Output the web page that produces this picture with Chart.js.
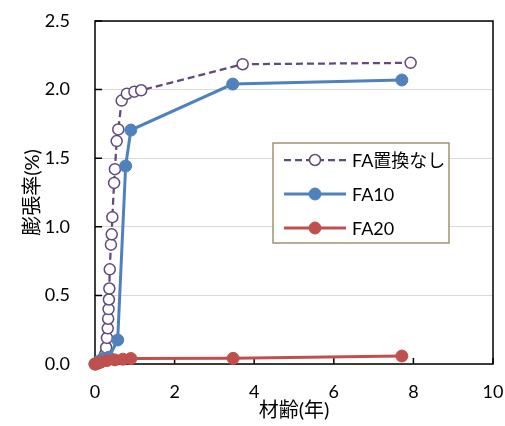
<!DOCTYPE html>
<html lang="ja">
<head>
<meta charset="UTF-8">
<title>膨張率</title>
<script src="https://cdn.jsdelivr.net/npm/chart.js"></script>
<style>
  html, body { margin: 0; padding: 0; background: #ffffff; }
  #wrap { width: 505px; height: 426px; position: relative; }
</style>
</head>
<body>
<div id="wrap"><canvas id="myChart"></canvas></div>
<script>
// 目盛
const xTicks = [0, 2, 4, 6, 8, 10];
const yTicks = [0, 0.5, 1.0, 1.5, 2.0, 2.5];
const yTickLabels = ['0.0', '0.5', '1.0', '1.5', '2.0', '2.5'];

// 系列名
const seriesNames = ['FA置換なし', 'FA10', 'FA20'];

// FA置換なし
const fa0Age = [0, 0.03, 0.12, 0.20, 0.25, 0.28, 0.30, 0.32, 0.33, 0.34, 0.35, 0.36, 0.37, 0.40, 0.42, 0.435, 0.48, 0.50, 0.545, 0.585, 0.67, 0.80, 0.99, 1.16, 3.71, 7.93];
const fa0Exp = [0, 0.00, 0.01, 0.03, 0.07, 0.12, 0.19, 0.26, 0.33, 0.40, 0.47, 0.55, 0.69, 0.87, 0.945, 1.07, 1.32, 1.42, 1.625, 1.71, 1.92, 1.97, 1.985, 1.995, 2.185, 2.195];

// FA10
const fa10Age = [0, 0.10, 0.20, 0.35, 0.57, 0.77, 0.90, 3.46, 7.71];
const fa10Exp = [0, 0.02, 0.04, 0.05, 0.175, 1.443, 1.705, 2.04, 2.07];

// FA20
const fa20Age = [0, 0.05, 0.15, 0.30, 0.50, 0.70, 0.90, 3.47, 7.71];
const fa20Exp = [0, 0.005, 0.015, 0.025, 0.03, 0.035, 0.04, 0.041, 0.058];

const toPoints = (xs, ys) => xs.map((v, i) => ({ x: v, y: ys[i] }));

const fontFamily = "Lato, 'Noto Sans CJK JP', sans-serif";

// 枠と内向き目盛
const framePlugin = {
  id: 'frame',
  beforeDatasetsDraw(chart) {
    const { ctx, chartArea: a, scales: { x, y } } = chart;
    ctx.save();
    ctx.strokeStyle = '#000000';
    ctx.lineWidth = 1.5;
    ctx.beginPath();
    yTicks.forEach(v => {
      const py = y.getPixelForValue(v);
      ctx.moveTo(a.left, py);
      ctx.lineTo(a.left + 7, py);
    });
    xTicks.forEach(v => {
      const px = x.getPixelForValue(v);
      ctx.moveTo(px, a.bottom);
      ctx.lineTo(px, a.bottom - 6);
    });
    ctx.stroke();
    ctx.strokeRect(a.left, a.top, a.right - a.left, a.bottom - a.top);
    ctx.restore();
  }
};

// 凡例 (グラフ内)
const legendPlugin = {
  id: 'boxLegend',
  afterDatasetsDraw(chart, args, opts) {
    const { ctx } = chart;
    ctx.save();
    ctx.fillStyle = '#ffffff';
    ctx.fillRect(opts.left, opts.top, opts.width, opts.height);
    ctx.strokeStyle = '#9a9472';
    ctx.lineWidth = 1.5;
    ctx.strokeRect(opts.left, opts.top, opts.width, opts.height);
    ctx.font = '18px ' + fontFamily;
    ctx.textBaseline = 'middle';
    ctx.textAlign = 'left';
    seriesNames.forEach((name, i) => {
      const ds = chart.data.datasets.find(d => d.label === name);
      const cy = opts.top + opts.rowStart + i * opts.rowGap;
      const x0 = opts.left + 11, x1 = opts.left + 73;
      ctx.strokeStyle = ds.borderColor;
      ctx.lineWidth = ds.borderWidth;
      ctx.setLineDash(ds.borderDash || []);
      ctx.beginPath();
      ctx.moveTo(x0, cy);
      ctx.lineTo(x1, cy);
      ctx.stroke();
      ctx.setLineDash([]);
      ctx.beginPath();
      ctx.arc((x0 + x1) / 2, cy, ds.pointRadius, 0, Math.PI * 2);
      ctx.fillStyle = ds.pointBackgroundColor;
      ctx.fill();
      ctx.lineWidth = ds.pointBorderWidth;
      ctx.strokeStyle = ds.pointBorderColor;
      ctx.stroke();
      ctx.fillStyle = '#000000';
      ctx.fillText(name, opts.left + 79, cy + 1);
    });
    ctx.restore();
  }
};

const ctx = document.getElementById('myChart').getContext('2d');
const myChart = new Chart(ctx, {
  type: 'scatter',
  data: {
    datasets: [
      {
        label: seriesNames[2],
        data: toPoints(fa20Age, fa20Exp),
        showLine: true,
        borderColor: '#c0504d',
        borderWidth: 3,
        pointRadius: 6,
        pointBackgroundColor: '#c0504d',
        pointBorderColor: '#c0504d',
        pointBorderWidth: 1,
        order: 0,
        clip: false
      },
      {
        label: seriesNames[1],
        data: toPoints(fa10Age, fa10Exp),
        showLine: true,
        borderColor: '#4f81bd',
        borderWidth: 3,
        pointRadius: 6,
        pointBackgroundColor: '#4f81bd',
        pointBorderColor: '#4f81bd',
        pointBorderWidth: 1,
        order: 1,
        clip: false
      },
      {
        label: seriesNames[0],
        data: toPoints(fa0Age, fa0Exp),
        showLine: true,
        borderColor: '#604a7b',
        borderWidth: 2.25,
        borderDash: [7, 4],
        pointRadius: 5.5,
        pointBackgroundColor: '#ffffff',
        pointBorderColor: '#604a7b',
        pointBorderWidth: 1.5,
        order: 2,
        clip: false
      }
    ]
  },
  options: {
    responsive: true,
    maintainAspectRatio: false,
    animation: false,
    layout: { padding: { top: 21, right: 12, left: 0, bottom: 0 } },
    plugins: {
      legend: { display: false },
      tooltip: { enabled: false },
      boxLegend: { left: 273, top: 143, width: 176, height: 100, rowStart: 17, rowGap: 34 }
    },
    scales: {
      x: {
        type: 'linear',
        min: 0,
        max: 10,
        afterBuildTicks: s => { s.ticks = xTicks.map(v => ({ value: v })); },
        afterFit: s => { s.height = 62; s.paddingLeft = 0; s.paddingRight = 0; },
        grid: { display: false, drawTicks: false },
        border: { display: false },
        ticks: { padding: 17, color: '#000000', font: { family: fontFamily, size: 18 } },
        title: {
          display: true,
          text: '材齢(年)',
          color: '#000000',
          font: { family: fontFamily, size: 20 },
          padding: { top: 0, bottom: 3 }
        }
      },
      y: {
        min: 0,
        max: 2.5,
        afterBuildTicks: s => { s.ticks = yTicks.map(v => ({ value: v })); },
        afterFit: s => { s.width = 95; s.paddingTop = 0; s.paddingBottom = 0; },
        grid: { color: '#d9d9d9', lineWidth: 1, drawTicks: false },
        border: { display: false },
        ticks: {
          padding: 25,
          color: '#000000',
          font: { family: fontFamily, size: 18 },
          callback: (v, i) => yTickLabels[i]
        },
        title: {
          display: true,
          text: '膨張率(%)',
          color: '#000000',
          font: { family: fontFamily, size: 20 },
          padding: { top: 21, bottom: 0 }
        }
      }
    }
  },
  plugins: [framePlugin, legendPlugin]
});
</script>
</body>
</html>
